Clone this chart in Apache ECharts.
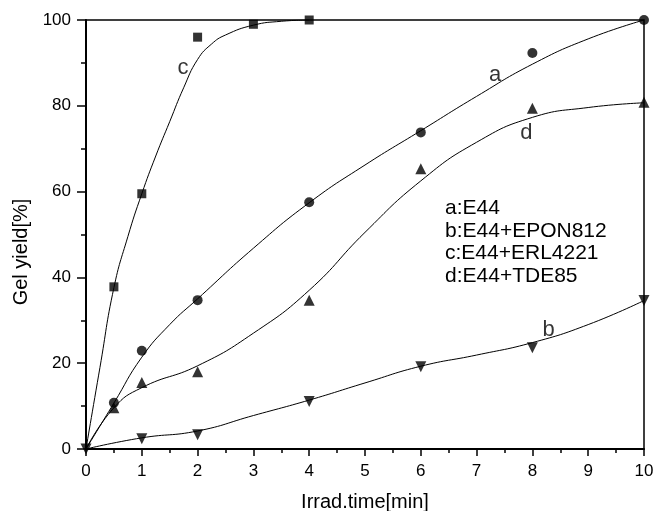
<!DOCTYPE html>
<html>
<head>
<meta charset="utf-8">
<script src="https://cdn.jsdelivr.net/npm/echarts@6/dist/echarts.min.js"></script>
<style>
  html, body { margin: 0; padding: 0; background: #fff; }
  #main { width: 653px; height: 511px; }
</style>
</head>
<body>
<div id="main"></div>
<script>
// measured points (x = irradiation time in min, y = gel yield in %)
const ptsA = [[0.5, 10.8], [1, 22.9], [2, 34.7], [4, 57.5], [6, 73.8], [8, 92.3], [10, 100]];
const ptsB = [[0, 0], [1, 2.4], [2, 3.3], [4, 11.1], [6, 19.2], [8, 23.6], [10, 34.6]];
const ptsC = [[0.5, 37.8], [1, 59.5], [2, 96.0], [3, 99.0], [4, 100]];
const ptsD = [[0.5, 9.6], [1, 15.5], [2, 18.0], [4, 34.7], [6, 65.3], [8, 79.4], [10, 80.8]];

// fitted curves
const fitA = [[0, 0], [0.5, 10.7], [1, 21.4], [1.5, 29], [2, 35], [3, 46.8], [4, 57.4], [5, 66.2], [6, 74.2], [7, 82.2], [8, 89.7], [9, 95.6], [10, 100]];
const fitB = [[0, 0], [1, 2.6], [2, 4.2], [3, 7.8], [4, 11.4], [5, 15.4], [6, 19.3], [7, 21.9], [8, 24.8], [9, 29], [10, 34.6]];
const fitC = [[0, 0], [0.25, 19], [0.5, 37.6], [0.75, 49.5], [1, 59.5], [1.25, 68.3], [1.5, 76.3], [1.75, 84.2], [2, 90.8], [2.25, 94.4], [2.5, 96.5], [3, 98.8], [3.5, 99.7], [4, 100]];
const fitD = [[0, 0], [0.5, 9.6], [1, 14.3], [2, 19.4], [3, 27], [4, 37], [5, 50.5], [6, 62.5], [7, 71.5], [8, 77.3], [9, 79.6], [10, 80.7]];

// curve letters placed in data units
const curveLabels = [[7.33, 87.2, 'a'], [8.29, 27.7, 'b'], [1.74, 88.8, 'c'], [7.89, 73.6, 'd']];

const legendLines = ['a:E44', 'b:E44+EPON812', 'c:E44+ERL4221', 'd:E44+TDE85'];

const font = 'Arial, "Liberation Sans", sans-serif';

const chart = echarts.init(document.getElementById('main'));

const curve = (data) => ({
  type: 'line',
  data: data,
  smooth: 0.5,
  showSymbol: false,
  silent: true,
  lineStyle: { color: '#000', width: 1 },
  z: 2
});

const marks = (data, symbol, size, rotate) => ({
  type: 'scatter',
  data: data,
  symbol: symbol,
  symbolSize: size,
  symbolRotate: rotate || 0,
  itemStyle: { color: '#000' },
  z: 3
});

chart.setOption({
  animation: false,
  backgroundColor: '#fff',
  grid: {
    left: 86, right: 9, top: 20, bottom: 62,
    outerBoundsMode: 'none', containLabel: false,
    show: true, borderColor: '#000', borderWidth: 1.5, backgroundColor: 'transparent'
  },
  xAxis: {
    type: 'value', min: 0, max: 10, interval: 1,
    name: 'Irrad.time[min]', nameLocation: 'middle', nameGap: 43,
    nameTextStyle: { fontFamily: font, fontSize: 20, color: '#000' },
    axisLine: { lineStyle: { color: '#000', width: 2 } },
    axisTick: { inside: false, length: 7, lineStyle: { color: '#000', width: 1.5 } },
    minorTick: { show: true, splitNumber: 2, length: 4, lineStyle: { color: '#000', width: 1.5 } },
    axisLabel: { fontFamily: font, fontSize: 17, color: '#000', margin: 14 },
    splitLine: { show: false }
  },
  yAxis: {
    type: 'value', min: 0, max: 100, interval: 20,
    name: 'Gel yield[%]', nameLocation: 'middle', nameGap: 52,
    nameTextStyle: { fontFamily: font, fontSize: 20, color: '#000', padding: [0, 0, 0, -35] },
    axisLine: { lineStyle: { color: '#000', width: 2 } },
    axisTick: { inside: false, length: 9, lineStyle: { color: '#000', width: 1.5 } },
    minorTick: { show: true, splitNumber: 2, length: 5, lineStyle: { color: '#000', width: 1.5 } },
    axisLabel: { fontFamily: font, fontSize: 17, color: '#000', margin: 15 },
    splitLine: { show: false }
  },
  series: [
    curve(fitA), curve(fitB), curve(fitC), curve(fitD),
    marks(ptsA, 'circle', 10),
    marks(ptsB, 'triangle', 11, 180),
    marks(ptsC, 'rect', 9),
    marks(ptsD, 'triangle', 11),
    {
      type: 'scatter',
      data: curveLabels,
      symbolSize: 0,
      label: {
        show: true, position: 'inside',
        formatter: (p) => p.data[2],
        fontFamily: font, fontSize: 22, color: '#000'
      },
      z: 4
    }
  ],
  graphic: [{
    type: 'text',
    left: 445, top: 197,
    style: {
      text: legendLines.join('\n'),
      font: '21px ' + font,
      lineHeight: 22.5,
      fill: '#000'
    }
  }]
});
</script>
</body>
</html>
